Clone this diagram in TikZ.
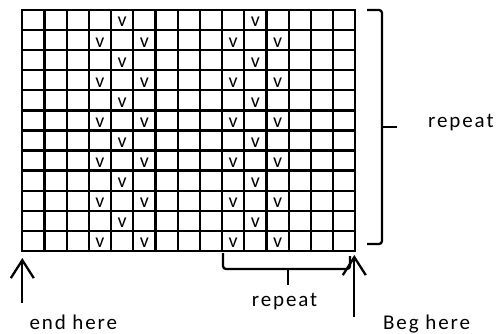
\documentclass[tikz,border=0pt]{standalone}
\usepackage{fontspec}
\setmainfont{Carlito}
\newfontfamily\lblfont[LetterSpace=9]{Carlito}
\usetikzlibrary{arrows.meta}
\begin{document}
\begin{tikzpicture}[x=1pt,y=-1pt,
  gridline/.style={line width=2.3pt, line cap=rect},
  markv/.style={font=\fontsize{20}{20}\selectfont, anchor=base, inner sep=0pt},
  lab/.style={font=\lblfont\fontsize{21}{21}\selectfont, anchor=base west, inner sep=0pt},
  brace/.style={line width=2.3pt, rounded corners=3pt},
  bracetip/.style={line width=2.5pt},
  uparrow/.style={line width=2.3pt, -{Straight Barb[length=18pt,width=23pt]}}]
\useasboundingbox (0,0) rectangle (500,334);
% grid
\foreach \i in {0,...,15}
  \draw[gridline] ({22.3+\i*22.2},10) -- ({22.3+\i*22.2},251);
\foreach \j in {0,...,12}
  \draw[gridline] (22.3,{10+\j*20.08}) -- (355.3,{10+\j*20.08});
% v marks
\foreach \r in {0,2,...,10}
  \foreach \c in {4,10}
    \node[markv] (v-\r-\c) at ({22.3+(\c+0.5)*22.2},{10+\r*20.08+17}) {v};
\foreach \r in {1,3,...,11}
  \foreach \c in {3,5,9,11}
    \node[markv] (v-\r-\c) at ({22.3+(\c+0.5)*22.2},{10+\r*20.08+17}) {v};
% right brace
\coordinate (rbtop) at (367,10);
\coordinate (rbtopc) at (382,10);
\coordinate (rbbotc) at (382,244);
\coordinate (rbbot) at (367,244);
\coordinate (rbmid) at (382,127);
\coordinate (rbtip) at (397,127);
\draw[brace] (rbtop) -- (rbtopc) -- (rbbotc) -- (rbbot);
\draw[bracetip] (rbmid) -- (rbtip);
\node[lab] (rep1) at (428,127.5) {repeat};
% bottom brace
\coordinate (bbl) at (223,253);
\coordinate (bblc) at (223,269);
\coordinate (bbrc) at (350,269);
\coordinate (bbr) at (350,256);
\coordinate (bbmid) at (288,269);
\coordinate (bbtip) at (288,285);
\draw[brace] (bbl) -- (bblc) -- (bbrc) -- (bbr);
\draw[bracetip] (bbmid) -- (bbtip);
\node[lab] (rep2) at (251.7,306.7) {repeat};
% arrows
\coordinate (endfoot) at (22.3,303);
\coordinate (endtip) at (22.3,258);
\coordinate (begfoot) at (354.3,317);
\coordinate (begtip) at (354.3,255);
\draw[uparrow] (endfoot) -- (endtip);
\draw[uparrow] (begfoot) -- (begtip);
\node[lab] (endlbl) at (29.3,329) {end here};
\node[lab] (beglbl) at (383,329) {Beg here};
\end{tikzpicture}
\end{document}
